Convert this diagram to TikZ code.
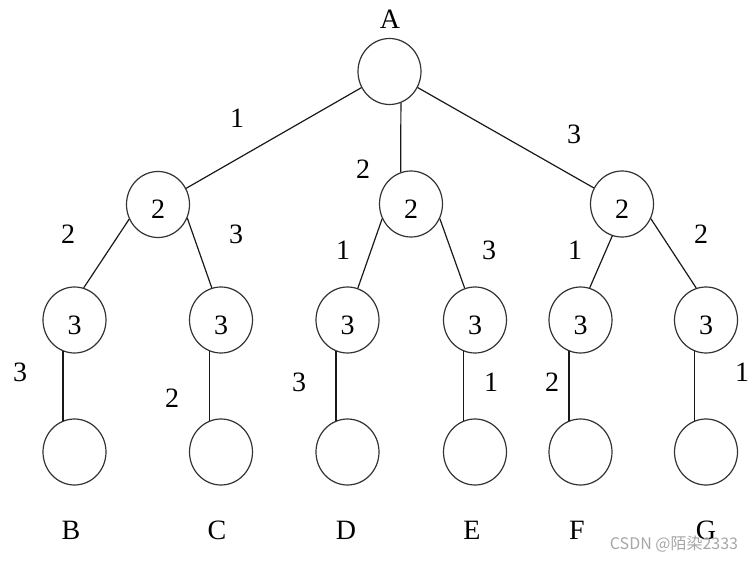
\documentclass[tikz,border=0pt]{standalone}
\usepackage{fontspec}
\setmainfont{Liberation Serif}
\newfontfamily\cjk{Noto Sans CJK SC}
\usetikzlibrary{shapes.geometric}

\begin{document}
\begin{tikzpicture}[
  x=1pt, y=-1pt,
  font=\fontsize{28}{31}\selectfont,
  vert/.style={draw=black!80, line width=1.2pt, ellipse, minimum width=63pt, minimum height=66pt, inner sep=0pt, text height=28pt, text depth=0pt},
  edge/.style={draw=black!90, line width=1.2pt},
  wt/.style={inner sep=0pt},
  wmark/.style={inner sep=0pt, text=black!35, font=\cjk\fontsize{16}{18}\selectfont}
]
\useasboundingbox (0,0) rectangle (755,562);

\node[vert] (a) at (389.5,71.5) {};
\node[vert] (l) at (158,204.5) {2};
\node[vert] (m) at (411,204) {2};
\node[vert] (r) at (622,204) {2};

\foreach \x [count=\i] in {74.5,221,347.5,475,580.5,706} {
  \node[vert] (c\i) at (\x,320) {3};
  \node[vert] (d\i) at (\x,452) {};
  \draw[edge] (c\i.250) -- (d\i.110);
}

\draw[edge] (a) -- (l);
\draw[edge] (a.-70) -- (m.108);
\draw[edge] (a) -- (r);
\draw[edge] (l.207) -- (c1.74);
\draw[edge] (l.-25) -- (c2.106);
\draw[edge] (m.207) -- (c3.72);
\draw[edge] (m.-27) -- (c4.108);
\draw[edge] (r.-107) -- (c5.74);
\draw[edge] (r.-27) -- (c6.107);

\foreach \x/\y/\t [count=\i] in {237/118/1, 363/169/2, 574/134/3, 68/234/2, 236/234/3,
  343/250/1, 489/250/3, 575/250/1, 701/234/2, 20/372/3, 172/398/2, 299/382/3,
  491/382/1, 552/382/2, 742/372/1}
  \node[wt] (w\i) at (\x,\y) {\t};

\node[wt] (nA) at (390,19) {A};
\foreach \x/\t in {71/B, 217/C, 346/D, 472/E, 577/F, 706/G}
  \node[wt] (n\t) at (\x,530) {\t};

\node[wmark] (wm) at (674,544) {CSDN @陌染2333};

\end{tikzpicture}
\end{document}
